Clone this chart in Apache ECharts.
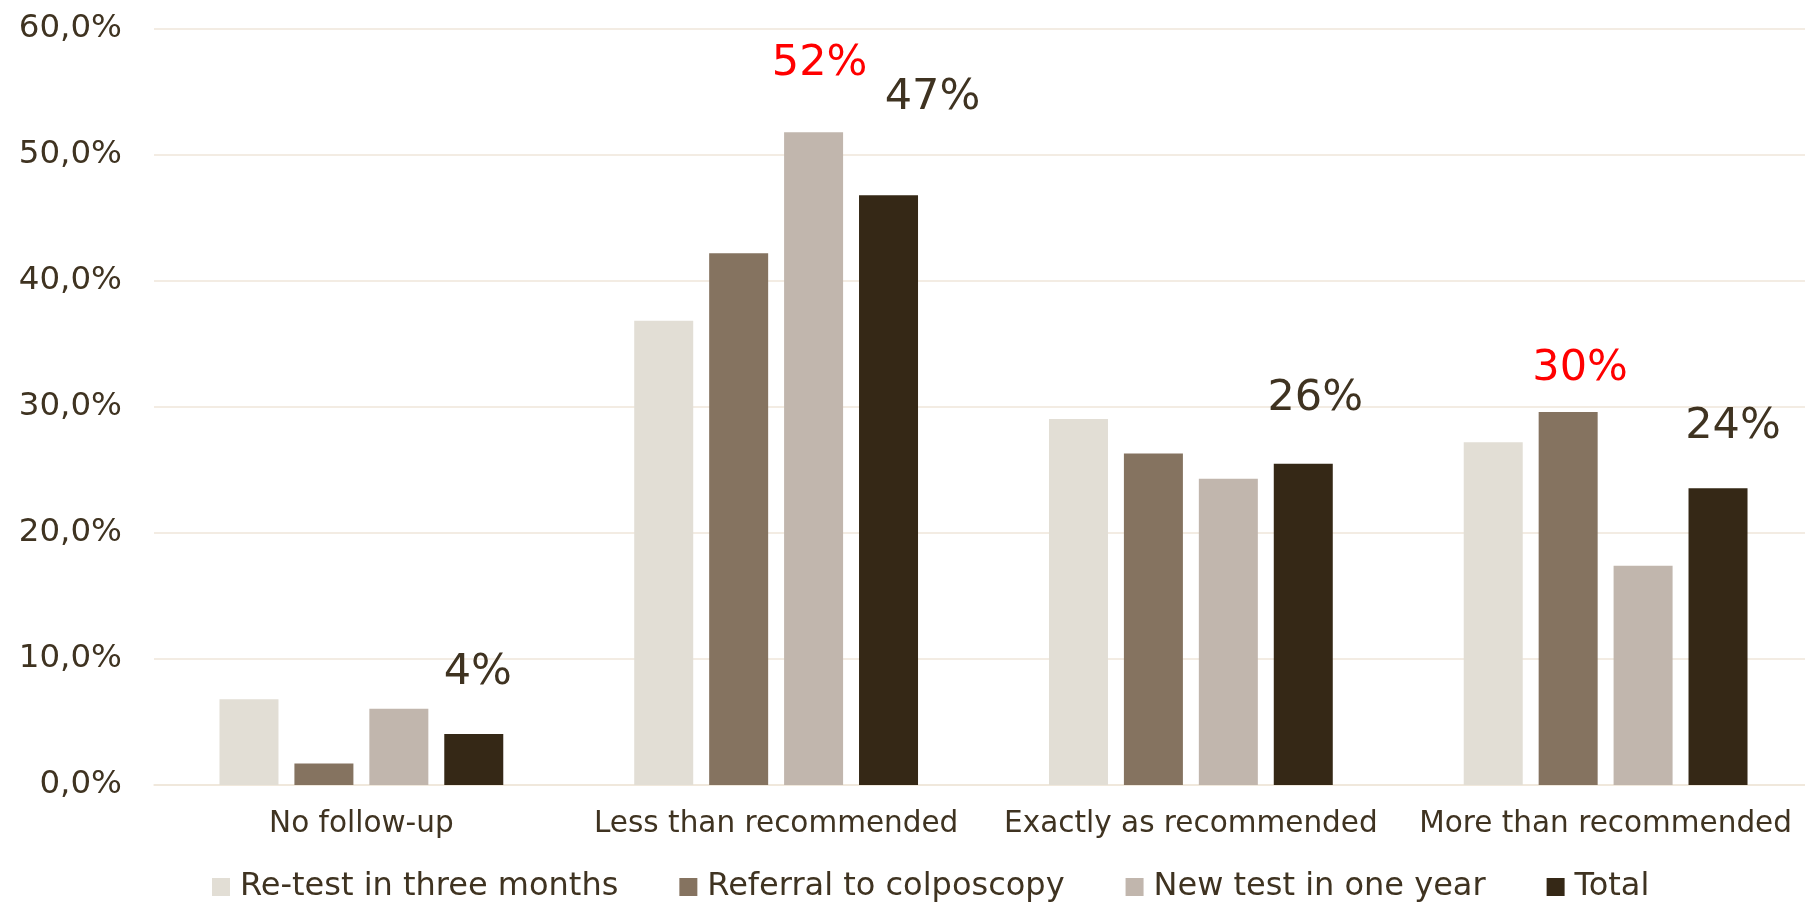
<!DOCTYPE html>
<html>
<head>
<meta charset="utf-8">
<script src="https://cdn.jsdelivr.net/npm/echarts@6/dist/echarts.min.js"></script>
<style>
html,body{margin:0;padding:0;background:#fff;overflow:hidden;}
#chart{width:1813px;height:902px;}
</style>
</head>
<body>
<div id="chart"></div>
<script>
// ---- data ----
const categories = ['No follow-up', 'Less than recommended', 'Exactly as recommended', 'More than recommended'];
const seriesNames = ['Re-test in three months', 'Referral to colposcopy', 'New test in one year', 'Total'];
const retest = [6.8, 36.85, 29.05, 27.2];
const referral = [1.7, 42.2, 26.3, 29.6];
const newTest = [6.05, 51.8, 24.3, 17.4];
const total = [4.05, 46.8, 25.5, 23.55];
const yTicks = [0, 10, 20, 30, 40, 50, 60];

// which bars carry a value label (series index, category index, highlighted)
const labelled = [
  {s: 3, c: 0, red: false},
  {s: 2, c: 1, red: true},
  {s: 3, c: 1, red: false},
  {s: 3, c: 2, red: false},
  {s: 1, c: 3, red: true},
  {s: 3, c: 3, red: false}
];
// label placement (layout only)
const labelOffsets = {
  '3-0': [4, -61], '2-1': [6, -68], '3-1': [44, -97],
  '3-2': [12, -65], '1-3': [12, -43], '3-3': [15, -61]
};

const colors = ['#E2DED5', '#857360', '#C1B6AD', '#352816'];
const textColor = '#3F3321';
const gridColor = '#EFE6DA';
const FONT = 'DejaVu Sans';

const valueSets = [retest, referral, newTest, total];

function buildData(si) {
  return valueSets[si].map((v, ci) => {
    const spec = labelled.find(l => l.s === si && l.c === ci);
    if (!spec) return v;
    const off = labelOffsets[si + '-' + ci];
    return {
      value: v,
      label: {
        show: true,
        position: 'top',
        distance: 0,
        verticalAlign: 'middle',
        offset: off,
        formatter: p => Math.round(p.value) + '%',
        color: spec.red ? '#FF0000' : textColor,
        fontFamily: FONT,
        fontSize: 43
      }
    };
  });
}

const chart = echarts.init(document.getElementById('chart'), null, {renderer: 'canvas'});
chart.setOption({
  animation: false,
  backgroundColor: '#ffffff',
  grid: {left: 154, right: 0, top: 29, bottom: 117, containLabel: false},
  legend: {
    data: seriesNames,
    left: 207,
    top: 866,
    icon: 'rect',
    itemWidth: 18,
    itemHeight: 18,
    itemGap: 61,
    textStyle: {color: textColor, fontFamily: FONT, fontSize: 32, padding: [0, 0, 0, 5]}
  },
  xAxis: {
    type: 'category',
    data: categories,
    axisLine: {show: true, lineStyle: {color: gridColor, width: 1.5}},
    axisTick: {show: false},
    axisLabel: {color: textColor, fontFamily: FONT, fontSize: 29.5, margin: 24, interval: 0}
  },
  yAxis: {
    type: 'value',
    min: yTicks[0],
    max: yTicks[yTicks.length - 1],
    interval: yTicks[1] - yTicks[0],
    axisLine: {show: false},
    axisTick: {show: false},
    splitLine: {show: true, lineStyle: {color: gridColor, width: 1.5}},
    axisLabel: {
      color: textColor, fontFamily: FONT, fontSize: 32.5, margin: 32,
      formatter: v => v.toFixed(1).replace('.', ',') + '%'
    }
  },
  series: seriesNames.map((name, si) => ({
    name: name,
    type: 'bar',
    barWidth: 59,
    barGap: '27%',
    itemStyle: {color: colors[si]},
    data: buildData(si)
  }))
});
</script>
</body>
</html>
